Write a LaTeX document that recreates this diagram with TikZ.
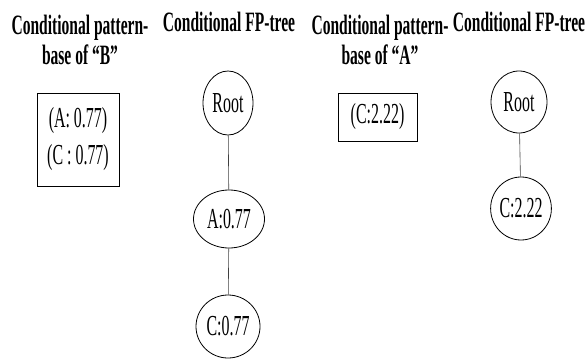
\documentclass[tikz,border=0pt]{standalone}
\usepackage{fontspec}
\newfontfamily\condserif[FakeStretch=0.55]{Liberation Serif}
\newfontfamily\condhead[FakeStretch=0.555]{Liberation Serif}
\usetikzlibrary{shapes.geometric}

\tikzset{
  heading/.style={align=center, inner sep=0pt, font=\condhead\bfseries\fontsize{28}{30}\selectfont},
  basebox/.style={draw, thick, rectangle, inner sep=0pt, align=center,
    font=\condserif\fontsize{29}{37}\selectfont},
  treenode/.style={draw, thick, ellipse, inner sep=0pt,
    font=\condserif\fontsize{29}{30}\selectfont},
  treeedge/.style={black!75, semithick}
}

\begin{document}
\begin{tikzpicture}[x=1pt, y=-1pt]
    \useasboundingbox (0,0) rectangle (585,361);

    % Headings
    \node[heading] (headB) at (80,40) {Conditional pattern-\\base of “B”};
    \node[heading, anchor=base] (treeB) at (229,32) {Conditional FP-tree};
    \node[heading] (headA) at (380,40) {Conditional pattern-\\base of “A”};
    \node[heading, anchor=base] (treeA) at (519,32) {Conditional FP-tree};

    % Conditional pattern bases
    \node[basebox, minimum width=82pt, minimum height=93pt] (baseB) at (78,139.5)
        {(A: 0.77)\\(C : 0.77)};
    \node[basebox, minimum width=79pt, minimum height=48pt] (baseA) at (377.5,117)
        {(C:2.22)};

    % FP-tree of B
    \node[treenode, minimum width=50pt, minimum height=64pt] (rootB) at (228,103) {Root};
    \node[treenode, minimum width=71pt, minimum height=58pt] (aB) at (229,219) {A:0.77};
    \node[treenode, minimum width=64pt, minimum height=63pt] (cB) at (228,326.5) {C:0.77};

    % FP-tree of A
    \node[treenode, minimum width=56pt, minimum height=62pt] (rootA) at (519,102) {Root};
    \node[treenode, minimum width=60pt, minimum height=63pt] (cA) at (521,208.5) {C:2.22};

    \draw[treeedge] (rootB) -- (aB);
    \draw[treeedge] (aB) -- (cB);
    \draw[treeedge] (rootA) -- (cA);
\end{tikzpicture}
\end{document}
